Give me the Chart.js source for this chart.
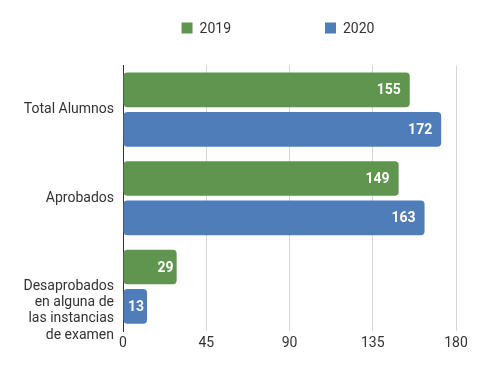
<!DOCTYPE html>
<html>
<head>
<meta charset="utf-8">
<script src="https://cdn.jsdelivr.net/npm/chart.js@4/dist/chart.umd.min.js"></script>
<style>
  html, body { margin: 0; padding: 0; background: #fff; }
  #wrap { width: 491px; height: 376px; position: relative; }
</style>
</head>
<body>
<div id="wrap"><canvas id="alumnosChart"></canvas></div>
<script>
const categories = [
  "Total Alumnos",
  "Aprobados",
  ["", "", "", "Desaprobados", "en alguna de", "las instancias", "de examen"],
];
const seriesNames = ["2019", "2020"];
const values2019 = [155, 149, 29];
const values2020 = [172, 163, 13];
const xTicks = [0, 45, 90, 135, 180];

const GREEN = "#5f954f";
const BLUE = "#4f7dba";
const FONT = "Roboto, 'Open Sans', sans-serif";

// white value labels inside the end of each bar
const barLabels = {
  id: "barLabels",
  afterDatasetsDraw(chart) {
    const ctx = chart.ctx;
    ctx.save();
    ctx.font = "bold 14px " + FONT;
    ctx.fillStyle = "#ffffff";
    ctx.textAlign = "right";
    ctx.textBaseline = "middle";
    chart.data.datasets.forEach((ds, i) => {
      chart.getDatasetMeta(i).data.forEach((bar, j) => {
        const txt = String(ds.data[j]);
        const pad = txt.length > 2 ? 9 : 3;
        ctx.fillText(txt, bar.x - pad, bar.y + 1);
      });
    });
    ctx.restore();
  },
};

// legend drawn above the plot, centred a bit right of the canvas middle
const topLegend = {
  id: "topLegend",
  afterDraw(chart) {
    const ctx = chart.ctx;
    const box = 11;
    const gap = 7;
    const spacing = 94;
    ctx.save();
    ctx.font = "14px " + FONT;
    const widths = chart.data.datasets.map(
      (ds) => box + gap + ctx.measureText(ds.label).width
    );
    const total = widths.reduce((a, b) => a + b, 0) + spacing * (widths.length - 1);
    let x = 278 - total / 2;
    const y = 28;
    chart.data.datasets.forEach((ds, i) => {
      ctx.fillStyle = ds.backgroundColor;
      ctx.fillRect(x, y - box / 2, box, box);
      ctx.fillStyle = "#333333";
      ctx.textAlign = "left";
      ctx.textBaseline = "middle";
      ctx.fillText(ds.label, x + box + gap, y + 1);
      x += widths[i] + spacing;
    });
    ctx.restore();
  },
};

new Chart(document.getElementById("alumnosChart").getContext("2d"), {
  type: "bar",
  data: {
    labels: categories,
    datasets: [
      {
        label: seriesNames[0],
        data: values2019,
        backgroundColor: GREEN,
        borderRadius: 4,
        borderSkipped: false,
        categoryPercentage: 0.89,
        barPercentage: 0.88,
      },
      {
        label: seriesNames[1],
        data: values2020,
        backgroundColor: BLUE,
        borderRadius: 4,
        borderSkipped: false,
        categoryPercentage: 0.89,
        barPercentage: 0.88,
      },
    ],
  },
  options: {
    indexAxis: "y",
    responsive: true,
    maintainAspectRatio: false,
    animation: false,
    layout: {
      padding: { top: 62, right: 35, bottom: 0, left: 0 },
    },
    plugins: {
      legend: { display: false },
      tooltip: { enabled: false },
    },
    scales: {
      x: {
        min: xTicks[0],
        max: xTicks[xTicks.length - 1],
        afterBuildTicks: (scale) => {
          scale.ticks = xTicks.map((v) => ({ value: v }));
        },
        afterFit: (scale) => {
          scale.height = 45;
        },
        grid: {
          color: "#d6d6d6",
          lineWidth: 1,
          drawTicks: false,
        },
        border: { display: false },
        ticks: {
          padding: 4,
          color: "#333333",
          font: { family: FONT, size: 14 },
        },
      },
      y: {
        afterFit: (scale) => {
          scale.width = 123;
        },
        grid: { display: false, drawTicks: false },
        border: { display: true, color: "#333333", width: 1 },
        ticks: {
          autoSkip: false,
          padding: 9,
          color: "#333333",
          font: { family: FONT, size: 14, lineHeight: 1.15 },
        },
      },
    },
  },
  plugins: [barLabels, topLegend],
});
</script>
</body>
</html>
